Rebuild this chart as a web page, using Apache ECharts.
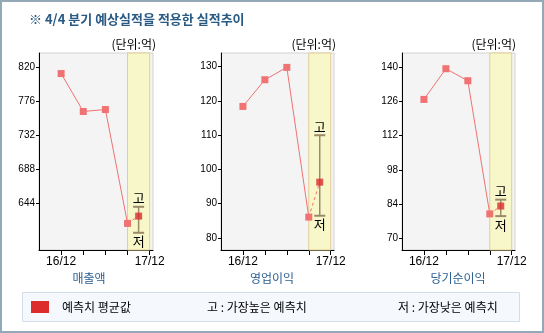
<!DOCTYPE html>
<html><head><meta charset="utf-8">
<script src="https://cdn.jsdelivr.net/npm/echarts@6/dist/echarts.min.js"></script>
<style>html,body{margin:0;padding:0;background:#fff}#c{width:544px;height:333px}</style>
</head><body><div id="c"></div>
<script>
// ---- data ----
const categories = ['16/12', '17/03', '17/06', '17/09', '17/12'];
const labeledCategoryIdx = [0, 4];
const panelNames = ['매출액', '영업이익', '당기순이익'];
const salesActual = [811.5, 762.6, 765.1, 618.3];
const opActual = [118.4, 126.2, 129.8, 86.1];
const netActual = [126.7, 139.2, 134.3, 80.1];
// forecast: [average, highest, lowest]
const salesForecast = [627.7, 639.7, 606.2];
const opForecast = [96.3, 110.0, 86.5];
const netForecast = [83.3, 85.9, 79.2];
const forecastSlot = 3.5;           // x position of forecast (between 17/09 and 17/12)
const forecastBand = [3, 4];        // shaded forecast period
const salesTicks = [644, 688, 732, 776, 820];
const opTicks = [80, 90, 100, 110, 120, 130];
const netTicks = [70, 84, 98, 112, 126, 140];
const salesRange = [584, 838];
const opRange = [76.5, 134];
const netRange = [65.4, 145.6];
const unitText = '(단위:억)';
const titleText = '※ 4/4 분기 예상실적을 적용한 실적추이';
const legendTexts = ['예측치 평균값', '고 : 가장높은 예측치', '저 : 가장낮은 예측치'];

// ---- layout / style ----
const KR = '"Noto Sans CJK KR", sans-serif';
const NUM = '"Liberation Sans", Arial, sans-serif';
const LINE_C = '#f07272';
const AVG_C = '#dc2c2c';
const BAR_C = '#9a8a6a';
const panels = [
  {actual: salesActual, fc: salesForecast, ticks: salesTicks, range: salesRange, left: 39, width: 114, nameX: 89, unitX: 156},
  {actual: opActual, fc: opForecast, ticks: opTicks, range: opRange, left: 221, width: 113, nameX: 272, unitX: 336},
  {actual: netActual, fc: netForecast, ticks: netTicks, range: netRange, left: 402, width: 113, nameX: 458, unitX: 516}
];

const grid = [], xAxis = [], yAxis = [], series = [];
panels.forEach((p, i) => {
  grid.push({left: p.left, top: 53, width: p.width, height: 197, show: true,
    backgroundColor: '#f4f4f4', borderColor: '#d2d2d2', borderWidth: 1});
  xAxis.push({type: 'value', gridIndex: i, min: -1, max: 4.15,
    axisLine: {show: true, onZero: false, lineStyle: {color: '#000', width: 1}},
    axisTick: {show: true, customValues: categories.map((c, k) => k), length: 5, lineStyle: {color: '#000'}},
    axisLabel: {customValues: labeledCategoryIdx, formatter: v => categories[Math.round(v)] || '',
      color: '#000', fontSize: 12, fontFamily: NUM, margin: 6},
    splitLine: {show: false}});
  yAxis.push({type: 'value', gridIndex: i, min: p.range[0], max: p.range[1],
    axisLine: {show: true, onZero: false, lineStyle: {color: '#000', width: 1}},
    axisTick: {show: true, customValues: p.ticks, length: 3, lineStyle: {color: '#000'}},
    axisLabel: {customValues: p.ticks, color: '#000', fontSize: 10, fontFamily: NUM, margin: 4},
    splitLine: {show: false}});
  series.push({type: 'line', xAxisIndex: i, yAxisIndex: i, z: 3,
    data: p.actual.map((v, k) => [k, v]),
    symbol: 'rect', symbolSize: 7, showSymbol: true,
    lineStyle: {color: LINE_C, width: 1}, itemStyle: {color: LINE_C},
    markArea: {silent: true, z: 1,
      itemStyle: {color: '#f7f7c9', borderColor: '#e2cd96', borderWidth: 1},
      data: [[{xAxis: forecastBand[0]}, {xAxis: forecastBand[1]}]]}});
  series.push({type: 'line', xAxisIndex: i, yAxisIndex: i, z: 3,
    data: [[p.actual.length - 1, p.actual[p.actual.length - 1]], [forecastSlot, p.fc[0]]],
    showSymbol: false, symbol: 'none',
    lineStyle: {color: LINE_C, width: 1, type: [3, 3]}});
  series.push({type: 'custom', xAxisIndex: i, yAxisIndex: i, z: 4,
    data: [[forecastSlot, p.fc[2], p.fc[1]]],
    renderItem: (params, api) => {
      const x = api.value(0), lo = api.value(1), hi = api.value(2);
      const pH = api.coord([x, hi]), pL = api.coord([x, lo]);
      return {type: 'group', children: [
        {type: 'line', shape: {x1: pH[0], y1: pH[1], x2: pL[0], y2: pL[1]}, style: {stroke: BAR_C, lineWidth: 1.5}},
        {type: 'rect', shape: {x: pH[0] - 5.5, y: pH[1] - 1, width: 11, height: 2}, style: {fill: BAR_C}},
        {type: 'rect', shape: {x: pL[0] - 5.5, y: pL[1] - 1, width: 11, height: 2}, style: {fill: BAR_C}},
        {type: 'text', x: pH[0], y: pH[1] - 2, style: {text: '고', fill: '#000', font: '13px ' + KR, align: 'center', verticalAlign: 'bottom'}},
        {type: 'text', x: pL[0], y: pL[1] + 2, style: {text: '저', fill: '#000', font: '13px ' + KR, align: 'center', verticalAlign: 'top'}}
      ]};
    }});
  series.push({type: 'scatter', xAxisIndex: i, yAxisIndex: i, z: 5,
    data: [[forecastSlot, p.fc[0]]], symbol: 'rect', symbolSize: 7, itemStyle: {color: AVG_C}});
});

const graphic = [
  {type: 'rect', shape: {x: 1, y: 1, width: 542, height: 331}, style: {fill: 'none', stroke: '#94a9b7', lineWidth: 2}, z: 10},
  {type: 'text', x: 29, y: 19, style: {text: titleText, fill: '#285a84', font: 'bold 13px ' + KR, verticalAlign: 'middle'}},
  {type: 'rect', shape: {x: 22.5, y: 292.5, width: 497, height: 29}, style: {fill: '#f5f8fd', stroke: '#d3dde8', lineWidth: 1}},
  {type: 'rect', shape: {x: 31, y: 301, width: 18, height: 12}, style: {fill: AVG_C}},
  {type: 'text', x: 62, y: 307, style: {text: legendTexts[0], fill: '#000', font: '12px ' + KR, verticalAlign: 'middle'}},
  {type: 'text', x: 207, y: 307, style: {text: legendTexts[1], fill: '#000', font: '12px ' + KR, verticalAlign: 'middle'}},
  {type: 'text', x: 398, y: 307, style: {text: legendTexts[2], fill: '#000', font: '12px ' + KR, verticalAlign: 'middle'}}
];
panels.forEach((p, i) => {
  graphic.push({type: 'text', x: p.unitX, y: 44, style: {text: unitText, fill: '#000', font: '12px ' + KR, align: 'right', verticalAlign: 'middle'}});
  graphic.push({type: 'text', x: p.nameX, y: 278, style: {text: panelNames[i], fill: '#2d6093', font: '12px ' + KR, align: 'center', verticalAlign: 'middle'}});
});

const chart = echarts.init(document.getElementById('c'), null, {renderer: 'canvas'});
chart.setOption({animation: false, grid, xAxis, yAxis, series, graphic});
</script></body></html>
